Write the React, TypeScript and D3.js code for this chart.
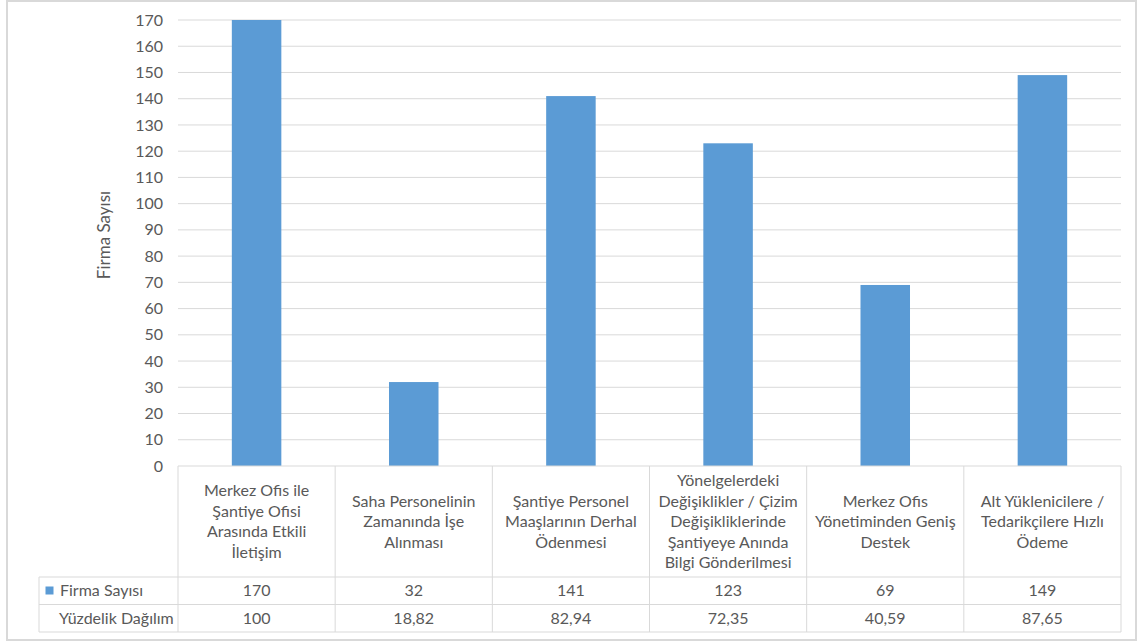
import React from "react";
import * as d3 from "d3";

const categories: string[][] = [
  ["Merkez Ofis ile", "Şantiye Ofisi", "Arasında Etkili", "İletişim"],
  ["Saha Personelinin", "Zamanında İşe", "Alınması"],
  ["Şantiye Personel", "Maaşlarının Derhal", "Ödenmesi"],
  ["Yönelgelerdeki", "Değişiklikler / Çizim", "Değişikliklerinde", "Şantiyeye Anında", "Bilgi Gönderilmesi"],
  ["Merkez Ofis", "Yönetiminden Geniş", "Destek"],
  ["Alt Yüklenicilere /", "Tedarikçilere Hızlı", "Ödeme"],
];
const firmaSayisi: number[] = [170, 32, 141, 123, 69, 149];
const yuzdelik: number[] = [100, 18.82, 82.94, 72.35, 40.59, 87.65];
const yTicks: number[] = d3.range(0, 171, 10);
const seriesName = "Firma Sayısı";
const row2Name = "Yüzdelik Dağılım";
const yTitle = "Firma Sayısı";

const W = 1141;
const H = 643;
const plotLeft = 178;
const plotRight = 1121;
const plotTop = 20;
const plotBottom = 466;
const catRowBottom = 577;
const row2Bottom = 604.5;
const row3Bottom = 632;
const headerLeft = 39;
const textColor = "#595959";
const lineColor = "#d9d9d9";
const barColor = "#5B9BD5";
const font = "Lato, 'Open Sans', sans-serif";
const fs = 16;

const fmt = (v: number) =>
  Number.isInteger(v) ? String(v) : v.toFixed(2).replace(".", ",");

export default function App() {
  const idx = categories.map((_, i) => String(i));
  const x = d3.scaleBand<string>().domain(idx).range([plotLeft, plotRight]).padding(0);
  const y = d3.scaleLinear().domain([0, 170]).range([plotBottom, plotTop]);
  const bw = x.bandwidth();
  const barW = bw * 0.315;
  const lineH = 20.5;

  return (
    <svg
      width={W}
      height={H}
      style={{ position: "absolute", left: 0, top: 0, background: "#fff" }}
      fontFamily={font}
    >
      <rect x={7} y={1} width={1129} height={639} fill="#fff" stroke={lineColor} strokeWidth={2} />
      {yTicks.map((t) => (
        <g key={t}>
          {t > 0 && (
            <line x1={plotLeft} x2={plotRight} y1={y(t)} y2={y(t)} stroke={lineColor} strokeWidth={1} />
          )}
          <text x={163} y={y(t)} dy="0.35em" textAnchor="end" fontSize={fs} fill={textColor}>
            {t}
          </text>
        </g>
      ))}
      <text
        transform={`translate(110,235) rotate(-90)`}
        textAnchor="middle"
        fontSize={17}
        fill={textColor}
      >
        {yTitle}
      </text>
      {firmaSayisi.map((v, i) => {
        const cx = (x(String(i)) as number) + bw / 2;
        return (
          <rect
            key={i}
            x={cx - barW / 2}
            y={y(v)}
            width={barW}
            height={y(0) - y(v)}
            fill={barColor}
          />
        );
      })}
      <line x1={plotLeft} x2={plotRight} y1={plotBottom} y2={plotBottom} stroke={lineColor} />
      {[catRowBottom, row2Bottom, row3Bottom].map((yy) => (
        <line key={yy} x1={headerLeft} x2={plotRight} y1={yy} y2={yy} stroke={lineColor} />
      ))}
      <line x1={headerLeft} x2={headerLeft} y1={catRowBottom} y2={row3Bottom} stroke={lineColor} />
      {idx.map((k) => (
        <line
          key={k}
          x1={x(k) as number}
          x2={x(k) as number}
          y1={plotBottom}
          y2={row3Bottom}
          stroke={lineColor}
        />
      ))}
      <line x1={plotRight} x2={plotRight} y1={plotBottom} y2={row3Bottom} stroke={lineColor} />
      {categories.map((lines, i) => {
        const cx = (x(String(i)) as number) + bw / 2;
        const cy = (plotBottom + catRowBottom) / 2;
        const start = cy - ((lines.length - 1) * lineH) / 2;
        return (
          <text key={i} textAnchor="middle" fontSize={fs} fill={textColor}>
            {lines.map((l, j) => (
              <tspan key={j} x={cx} y={start + j * lineH} dy="0.35em">
                {l}
              </tspan>
            ))}
          </text>
        );
      })}
      <rect x={45.5} y={586.5} width={8} height={8} fill={barColor} />
      <text x={60} y={(catRowBottom + row2Bottom) / 2} dy="0.35em" fontSize={fs} fill={textColor}>
        {seriesName}
      </text>
      <text x={59} y={(row2Bottom + row3Bottom) / 2} dy="0.35em" fontSize={fs} fill={textColor}>
        {row2Name}
      </text>
      {firmaSayisi.map((v, i) => (
        <text
          key={i}
          x={(x(String(i)) as number) + bw / 2}
          y={(catRowBottom + row2Bottom) / 2}
          dy="0.35em"
          textAnchor="middle"
          fontSize={fs}
          fill={textColor}
        >
          {fmt(v)}
        </text>
      ))}
      {yuzdelik.map((v, i) => (
        <text
          key={i}
          x={(x(String(i)) as number) + bw / 2}
          y={(row2Bottom + row3Bottom) / 2}
          dy="0.35em"
          textAnchor="middle"
          fontSize={fs}
          fill={textColor}
        >
          {fmt(v)}
        </text>
      ))}
    </svg>
  );
}
